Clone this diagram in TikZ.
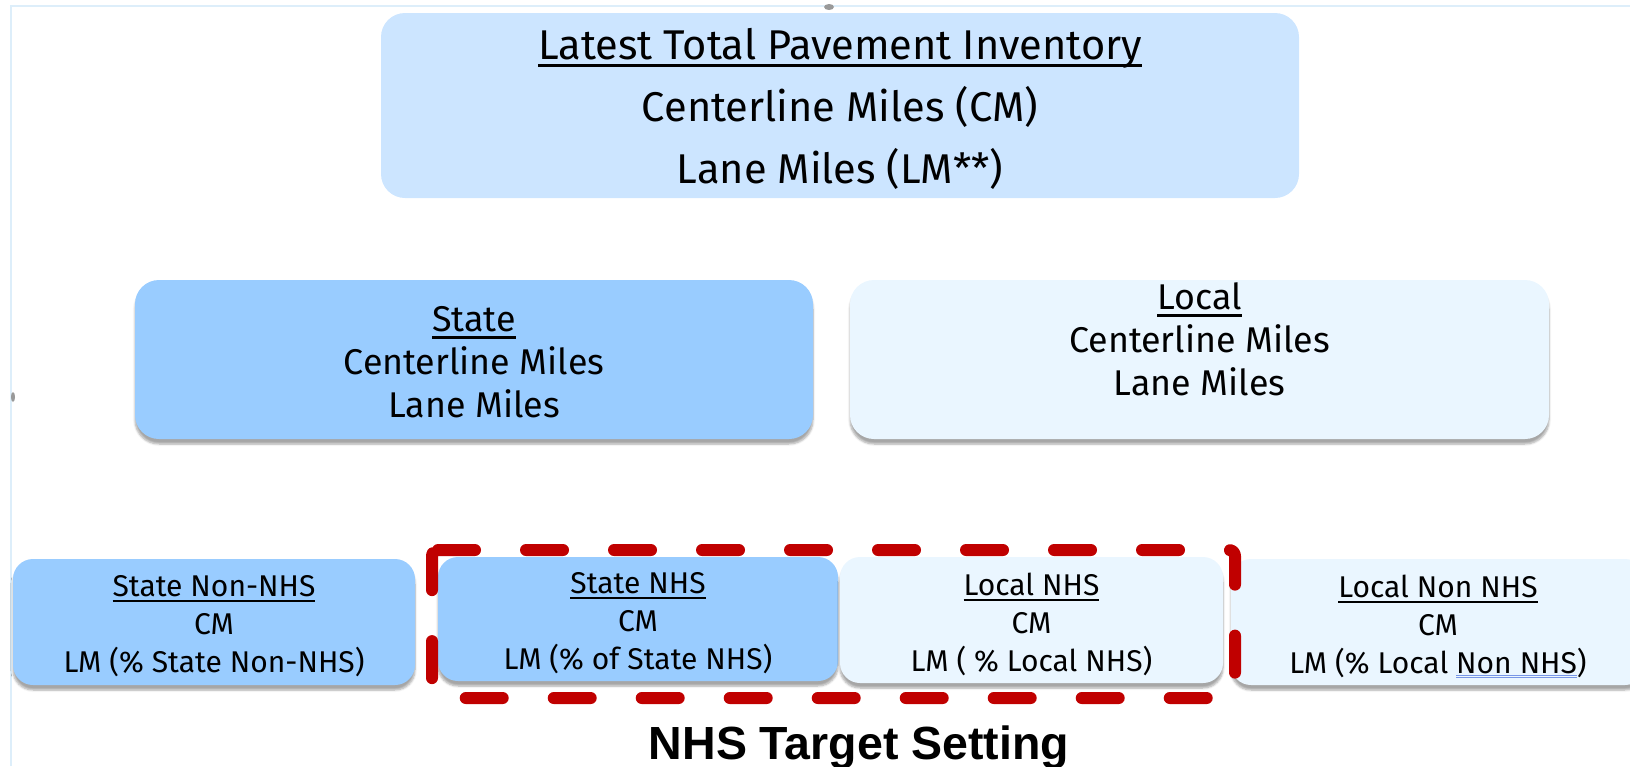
\documentclass[tikz,border=0pt]{standalone}
\usepackage{fontspec}
\setmainfont{Fira Sans}
\newfontfamily\headfont{Liberation Sans}
\usepackage{tikz}
\usetikzlibrary{shadows,shadows.blur}
\usepackage{xcolor}
\definecolor{pvtop}{RGB}{204,229,255}
\definecolor{pvstate}{RGB}{153,204,255}
\definecolor{pvlocal}{RGB}{234,246,255}
\definecolor{pvred}{RGB}{192,0,0}
\definecolor{pvframe}{RGB}{221,238,250}
\definecolor{pvspell}{RGB}{120,150,230}
\newcommand{\pvtopfont}{\fontsize{41.6}{62}\selectfont}
\newcommand{\pvmidfont}{\fontsize{35.8}{43}\selectfont}
\newcommand{\pvlowfont}{\fontsize{30}{38}\selectfont}
\newsavebox{\pvulbox}
\newcommand{\pvul}[1]{\leavevmode\sbox{\pvulbox}{#1}\rlap{\usebox{\pvulbox}}\rule[-0.19em]{\wd\pvulbox}{0.06em}}
\newcommand{\pvspellmark}[1]{\textcolor{pvspell}{\underline{\underline{\textcolor{black}{#1}}}}}
\tikzstyle{pavebox} = [rectangle, rounded corners=24pt, inner sep=0pt]
\tikzstyle{shadowbox} = [pavebox, blur shadow={shadow xshift=0pt, shadow yshift=-5pt, shadow opacity=35, shadow blur steps=6}]
\tikzstyle{lowbox} = [shadowbox, rounded corners=20pt]
\tikzstyle{pvtext} = [align=center, inner sep=0pt, text=black]
\tikzstyle{targetline} = [pvred, line width=12pt, dash pattern=on 37pt off 51pt, line cap=round, line join=round, rounded corners=6pt]

\begin{document}
\begin{tikzpicture}[x=1pt, y=-1pt]
    \useasboundingbox (0,0) rectangle (1630,766);
    \clip (0,0) rectangle (1630,766);
    % slide frame
    \draw[pvframe, line width=2pt] (11,766) -- (11,6) -- (1630,6);
    \fill[gray!80] (829,7) ellipse (5pt and 3pt);
    \fill[gray!80] (13,397) ellipse (2pt and 5pt);

    % Total inventory
    \node[pavebox, fill=pvtop, minimum width=918pt, minimum height=185pt] (total) at (840,105.5) {};
    \node[pvtext, font=\pvtopfont] (totaltxt) at ([yshift=-3pt]total.center)
        {\pvul{Latest Total Pavement Inventory}\\Centerline Miles (CM)\\Lane Miles (LM**)};

    % State and Local
    \node[shadowbox, fill=pvstate, minimum width=678pt, minimum height=159pt] (state) at (474,359.5) {};
    \node[pvtext, font=\pvmidfont] (statetxt) at ([yshift=-3pt]state.center)
        {\pvul{State}\\Centerline Miles\\Lane Miles};
    \node[shadowbox, fill=pvlocal, minimum width=699pt, minimum height=159pt] (local) at (1199.5,359.5) {};
    \node[pvtext, font=\pvmidfont] (localtxt) at ([yshift=20pt]local.center)
        {\pvul{Local}\\Centerline Miles\\Lane Miles};

    % NHS / Non-NHS split
    \node[lowbox, fill=pvstate, minimum width=402pt, minimum height=126pt] (snonnhs) at (214,622) {};
    \node[lowbox, fill=pvstate, minimum width=400pt, minimum height=124pt] (snhs) at (638,619) {};
    \node[lowbox, fill=pvlocal, minimum width=383pt, minimum height=126pt] (lnhs) at (1031.5,620) {};
    \node[lowbox, fill=pvlocal, minimum width=414pt, minimum height=126pt] (lnonnhs) at (1438,622) {};
    \node[pvtext, font=\pvlowfont] (snonnhstxt) at ([yshift=-4pt]snonnhs.center)
        {\pvul{State Non-NHS}\\CM\\LM (\% State Non-NHS)};
    \node[pvtext, font=\pvlowfont] (snhstxt) at ([yshift=-4pt]snhs.center)
        {\pvul{State NHS}\\CM\\LM (\% of State NHS)};
    \node[pvtext, font=\pvlowfont] (lnhstxt) at ([yshift=-4pt]lnhs.center)
        {\pvul{Local NHS}\\CM\\LM ( \% Local NHS)};
    \node[pvtext, font=\pvlowfont] (lnonnhstxt) at ([yshift=-4pt]lnonnhs.center)
        {\pvul{Local Non NHS}\\CM\\LM (\% Local \pvspellmark{Non NHS})};

    % NHS target setting
    \draw[targetline] (432,550) -- (1235,550) -- (1235,698) -- (432,698) -- cycle;
    \node[font=\headfont\bfseries\fontsize{46.5}{50}\selectfont, anchor=base] (target) at (859,759) {NHS Target Setting};
\end{tikzpicture}
\end{document}
